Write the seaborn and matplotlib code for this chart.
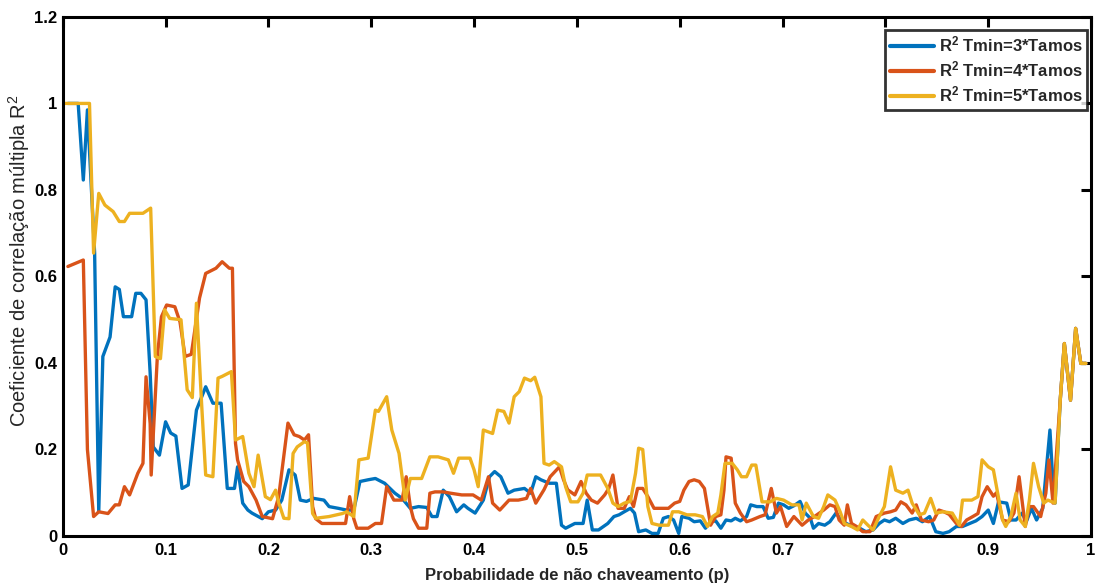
import matplotlib
matplotlib.use("Agg")
import matplotlib.pyplot as plt
import seaborn as sns

# ---------------- data ----------------
x_t3 = [0.005, 0.015, 0.02, 0.024, 0.031, 0.035, 0.039, 0.046, 0.051, 0.055, 0.059, 0.067, 0.071, 0.076,
        0.081, 0.085, 0.088, 0.094, 0.1, 0.105, 0.110, 0.116, 0.122, 0.13, 0.139, 0.146, 0.154, 0.16,
        0.167, 0.17, 0.175, 0.18, 0.184, 0.194, 0.2, 0.207, 0.213, 0.22, 0.226, 0.231, 0.237, 0.244,
        0.254, 0.259, 0.268, 0.276, 0.283, 0.289, 0.297, 0.304, 0.313, 0.323, 0.33, 0.338, 0.346,
        0.354, 0.359, 0.364, 0.37, 0.376, 0.383, 0.39, 0.394, 0.401, 0.409, 0.415, 0.42, 0.426, 0.433,
        0.439, 0.449, 0.455, 0.46, 0.465, 0.473, 0.48, 0.485, 0.489, 0.498, 0.506, 0.51, 0.515, 0.521,
        0.53, 0.536, 0.541, 0.546, 0.552, 0.556, 0.56, 0.567, 0.573, 0.579, 0.584, 0.589, 0.594, 0.599,
        0.602, 0.609, 0.614, 0.62, 0.625, 0.63, 0.635, 0.64, 0.645, 0.65, 0.654, 0.659, 0.665, 0.669,
        0.675, 0.681, 0.686, 0.691, 0.696, 0.701, 0.706, 0.711, 0.717, 0.722, 0.727, 0.73, 0.735, 0.741,
        0.746, 0.752, 0.757, 0.762, 0.768, 0.775, 0.781, 0.788, 0.794, 0.799, 0.804, 0.81, 0.817, 0.823,
        0.83, 0.836, 0.843, 0.849, 0.856, 0.862, 0.869, 0.875, 0.882, 0.888, 0.894, 0.9, 0.905, 0.91,
        0.918, 0.922, 0.927, 0.933, 0.937, 0.942, 0.947, 0.953, 0.96, 0.962, 0.965, 0.97, 0.974, 0.98,
        0.985, 0.99, 0.995]
r2_t3 = [1.0, 1.0, 0.823, 0.985, 0.654, 0.056, 0.415, 0.46, 0.576, 0.57, 0.507, 0.507, 0.561, 0.561,
         0.546, 0.377, 0.206, 0.187, 0.264, 0.238, 0.231, 0.11, 0.118, 0.291, 0.345, 0.307, 0.307, 0.11,
         0.11, 0.16, 0.076, 0.06, 0.053, 0.04, 0.056, 0.06, 0.083, 0.153, 0.141, 0.083, 0.08, 0.087,
         0.083, 0.068, 0.064, 0.06, 0.06, 0.126, 0.13, 0.133, 0.122, 0.099, 0.087, 0.064, 0.068,
         0.066, 0.045, 0.045, 0.106, 0.091, 0.056, 0.072, 0.064, 0.053, 0.083, 0.137, 0.149, 0.137, 0.099,
         0.106, 0.11, 0.099, 0.137, 0.13, 0.122, 0.122, 0.025, 0.018, 0.029, 0.029, 0.083, 0.014, 0.014,
         0.029, 0.045, 0.049, 0.056, 0.064, 0.053, 0.01, 0.014, 0.006, 0.006, 0.041, 0.045, 0.037, 0.006,
         0.045, 0.041, 0.033, 0.035, 0.018, 0.033, 0.035, 0.018, 0.037, 0.035, 0.041, 0.035, 0.045, 0.072,
         0.068, 0.068, 0.041, 0.043, 0.076, 0.072, 0.064, 0.07, 0.08, 0.053, 0.041, 0.018, 0.029, 0.025,
         0.033, 0.053, 0.037, 0.029, 0.022, 0.018, 0.01, 0.014, 0.029, 0.037, 0.033, 0.041, 0.029, 0.037,
         0.041, 0.033, 0.045, 0.01, 0.006, 0.01, 0.022, 0.022, 0.029, 0.035, 0.045, 0.06, 0.029, 0.079,
         0.076, 0.037, 0.037, 0.053, 0.033, 0.064, 0.037, 0.064, 0.245, 0.16, 0.076, 0.314, 0.445, 0.314,
         0.48, 0.399, 0.399]

x_t4 = [0.005, 0.02, 0.024, 0.03, 0.035, 0.044, 0.051, 0.055, 0.06, 0.065, 0.073, 0.078, 0.081, 0.085,
        0.086, 0.092, 0.096, 0.101, 0.109, 0.114, 0.119, 0.125, 0.133, 0.139, 0.149, 0.155, 0.162, 0.165,
        0.168, 0.17, 0.176, 0.181, 0.188, 0.194, 0.204, 0.21, 0.219, 0.225, 0.23, 0.235, 0.239, 0.243,
        0.246, 0.252, 0.275, 0.279, 0.283, 0.286, 0.297, 0.304, 0.31, 0.315, 0.322, 0.33, 0.334, 0.338,
        0.341, 0.346, 0.354, 0.357, 0.362, 0.37, 0.377, 0.388, 0.399, 0.407, 0.414, 0.418, 0.425, 0.434,
        0.443, 0.451, 0.455, 0.46, 0.468, 0.474, 0.483, 0.487, 0.491, 0.498, 0.504, 0.509, 0.514, 0.52,
        0.527, 0.531, 0.535, 0.54, 0.546, 0.551, 0.555, 0.559, 0.564, 0.569, 0.575, 0.589, 0.595, 0.6,
        0.604, 0.609, 0.614, 0.619, 0.624, 0.627, 0.63, 0.635, 0.64, 0.643, 0.645, 0.65, 0.654, 0.659,
        0.665, 0.67, 0.678, 0.683, 0.689, 0.694, 0.698, 0.704, 0.711, 0.719, 0.725, 0.731, 0.74, 0.746,
        0.751, 0.755, 0.76, 0.763, 0.767, 0.772, 0.778, 0.785, 0.791, 0.799, 0.805, 0.81, 0.815, 0.82,
        0.826, 0.83, 0.835, 0.842, 0.847, 0.852, 0.857, 0.862, 0.869, 0.874, 0.879, 0.885, 0.89, 0.894,
        0.899, 0.905, 0.908, 0.914, 0.92, 0.925, 0.93, 0.936, 0.94, 0.944, 0.951, 0.956, 0.959, 0.963,
        0.97, 0.974, 0.98, 0.985, 0.99, 0.995]
r2_t4 = [0.623, 0.638, 0.2, 0.045, 0.056, 0.052, 0.072, 0.072, 0.114, 0.095, 0.145, 0.168, 0.368, 0.26,
         0.141, 0.415, 0.507, 0.534, 0.53, 0.495, 0.415, 0.42, 0.55, 0.607, 0.619, 0.634, 0.619, 0.619,
         0.214, 0.176, 0.126, 0.114, 0.083, 0.045, 0.04, 0.091, 0.261, 0.234, 0.23, 0.222, 0.234, 0.068,
         0.04, 0.029, 0.029, 0.091, 0.04, 0.018, 0.018, 0.029, 0.029, 0.114, 0.083, 0.083, 0.137, 0.068,
         0.04, 0.018, 0.018, 0.099, 0.102, 0.102, 0.099, 0.095, 0.095, 0.083, 0.137, 0.076, 0.06, 0.083,
         0.083, 0.087, 0.11, 0.076, 0.107, 0.137, 0.16, 0.13, 0.107, 0.095, 0.126, 0.099, 0.083, 0.076,
         0.095, 0.11, 0.141, 0.064, 0.064, 0.091, 0.068, 0.11, 0.11, 0.091, 0.064, 0.064, 0.076, 0.08,
         0.106, 0.126, 0.13, 0.126, 0.11, 0.068, 0.025, 0.045, 0.049, 0.106, 0.183, 0.18, 0.076, 0.053,
         0.033, 0.037, 0.045, 0.049, 0.11, 0.053, 0.068, 0.022, 0.045, 0.025, 0.037, 0.045, 0.06, 0.072,
         0.068, 0.037, 0.025, 0.072, 0.029, 0.022, 0.01, 0.01, 0.045, 0.053, 0.056, 0.06, 0.079, 0.072,
         0.053, 0.072, 0.037, 0.033, 0.037, 0.06, 0.056, 0.05, 0.029, 0.022, 0.037, 0.045, 0.052, 0.091,
         0.114, 0.092, 0.1, 0.037, 0.033, 0.053, 0.137, 0.022, 0.068, 0.068, 0.045, 0.099, 0.176, 0.076,
         0.314, 0.445, 0.314, 0.48, 0.399, 0.399]

x_t5 = [0.0, 0.026, 0.03, 0.035, 0.041, 0.049, 0.055, 0.06, 0.065, 0.078, 0.0855, 0.09, 0.095, 0.099,
        0.104, 0.115, 0.121, 0.126, 0.13, 0.135, 0.139, 0.146, 0.151, 0.155, 0.164, 0.168, 0.175, 0.181,
        0.186, 0.19, 0.197, 0.202, 0.207, 0.21, 0.215, 0.22, 0.224, 0.228, 0.235, 0.238, 0.243, 0.246,
        0.259, 0.272, 0.276, 0.283, 0.288, 0.297, 0.304, 0.307, 0.315, 0.32, 0.327, 0.333, 0.338, 0.349,
        0.357, 0.365, 0.375, 0.38, 0.385, 0.396, 0.4, 0.404, 0.409, 0.418, 0.423, 0.429, 0.434, 0.439,
        0.444, 0.449, 0.455, 0.459, 0.465, 0.468, 0.473, 0.478, 0.485, 0.489, 0.494, 0.501, 0.506, 0.51,
        0.523, 0.53, 0.535, 0.54, 0.546, 0.552, 0.557, 0.56, 0.564, 0.569, 0.573, 0.58, 0.589, 0.593,
        0.599, 0.607, 0.615, 0.622, 0.627, 0.632, 0.637, 0.64, 0.644, 0.651, 0.656, 0.66, 0.665, 0.67,
        0.674, 0.68, 0.688, 0.694, 0.701, 0.709, 0.716, 0.719, 0.723, 0.73, 0.735, 0.74, 0.744, 0.751,
        0.756, 0.76, 0.767, 0.773, 0.778, 0.783, 0.788, 0.794, 0.799, 0.805, 0.81, 0.817, 0.822, 0.826,
        0.833, 0.838, 0.844, 0.849, 0.856, 0.865, 0.872, 0.875, 0.884, 0.89, 0.894, 0.9, 0.905, 0.908,
        0.914, 0.917, 0.922, 0.927, 0.931, 0.936, 0.94, 0.944, 0.949, 0.954, 0.958, 0.965, 0.97, 0.974,
        0.98, 0.985, 0.99, 0.995]
r2_t5 = [1.0, 1.0, 0.654, 0.792, 0.765, 0.75, 0.727, 0.727, 0.746, 0.746, 0.758, 0.415, 0.41, 0.523,
         0.503, 0.5, 0.338, 0.32, 0.538, 0.307, 0.141, 0.137, 0.365, 0.369, 0.38, 0.222, 0.23, 0.145,
         0.114, 0.187, 0.091, 0.084, 0.106, 0.077, 0.041, 0.04, 0.191, 0.206, 0.218, 0.215, 0.052, 0.041,
         0.045, 0.052, 0.056, 0.045, 0.176, 0.18, 0.291, 0.288, 0.322, 0.245, 0.191, 0.083, 0.133, 0.133,
         0.183, 0.183, 0.176, 0.145, 0.18, 0.18, 0.153, 0.114, 0.245, 0.237, 0.291, 0.288, 0.261, 0.322,
         0.334, 0.365, 0.359, 0.367, 0.322, 0.168, 0.164, 0.172, 0.16, 0.114, 0.079, 0.079, 0.099, 0.141,
         0.141, 0.11, 0.076, 0.068, 0.076, 0.08, 0.145, 0.203, 0.2, 0.068, 0.029, 0.025, 0.025, 0.056,
         0.056, 0.049, 0.049, 0.045, 0.022, 0.045, 0.053, 0.095, 0.168, 0.168, 0.153, 0.137, 0.137, 0.164,
         0.164, 0.079, 0.079, 0.087, 0.083, 0.072, 0.072, 0.037, 0.076, 0.045, 0.041, 0.068, 0.095, 0.083,
         0.056, 0.029, 0.022, 0.014, 0.037, 0.025, 0.014, 0.045, 0.068, 0.16, 0.106, 0.099, 0.106, 0.076,
         0.049, 0.053, 0.087, 0.053, 0.056, 0.053, 0.025, 0.083, 0.083, 0.091, 0.176, 0.16, 0.153, 0.114,
         0.037, 0.022, 0.045, 0.099, 0.037, 0.022, 0.083, 0.168, 0.114, 0.076, 0.083, 0.076, 0.314, 0.445,
         0.314, 0.48, 0.399, 0.399]

series_labels = [r"$\mathbf{R^2}$ Tmin=3*Tamos",
                 r"$\mathbf{R^2}$ Tmin=4*Tamos",
                 r"$\mathbf{R^2}$ Tmin=5*Tamos"]
x_ticks = [0, 0.1, 0.2, 0.3, 0.4, 0.5, 0.6, 0.7, 0.8, 0.9, 1]
x_tick_labels = ["0", "0.1", "0.2", "0.3", "0.4", "0.5", "0.6", "0.7", "0.8", "0.9", "1"]
y_ticks = [0, 0.2, 0.4, 0.6, 0.8, 1.0, 1.2]
y_tick_labels = ["0", "0.2", "0.4", "0.6", "0.8", "1", "1.2"]
x_title = "Probabilidade de não chaveamento (p)"
y_title = r"Coeficiente de correlação múltipla R$^2$"

# ---------------- style ----------------
sns.set_theme(style="white")
plt.rcParams["font.family"] = ["Liberation Sans", "DejaVu Sans"]
plt.rcParams["mathtext.fontset"] = "custom"
plt.rcParams["mathtext.rm"] = "Liberation Sans"
plt.rcParams["mathtext.it"] = "Liberation Sans:italic"
plt.rcParams["mathtext.bf"] = "Liberation Sans:bold"

colors = ["#0072BD", "#D95319", "#EDB120"]

fig = plt.figure(figsize=(10.97, 5.83), dpi=100)
ax = fig.add_axes([0.0572, 0.0806, 0.9374, 0.8904])

for xs, ys, lab, col in zip([x_t3, x_t4, x_t5], [r2_t3, r2_t4, r2_t5], series_labels, colors):
    sns.lineplot(x=xs, y=ys, ax=ax, color=col, label=lab, linewidth=2.4,
                 estimator=None, sort=False)

ax.set_xlim(0, 1)
ax.set_ylim(0, 1.2)
ax.set_xticks(x_ticks)
ax.set_xticklabels(x_tick_labels, fontsize=12, fontweight="bold")
ax.set_yticks(y_ticks)
ax.set_yticklabels(y_tick_labels, fontsize=12, fontweight="bold")
ax.tick_params(axis="both", direction="in", length=7, width=2.2, colors="black",
               top=True, right=True, pad=4)
ax.tick_params(axis="x", pad=5)
for sp in ax.spines.values():
    sp.set_visible(True)
    sp.set_color("black")
    sp.set_linewidth(2.2)
ax.grid(False)

ax.set_xlabel(x_title, fontsize=12, fontweight="bold", labelpad=7)
ax.set_ylabel(y_title, fontsize=14.5)
ax.yaxis.set_label_coords(-0.030, 0.53)

leg = ax.legend(loc="upper right", bbox_to_anchor=(0.9965, 0.975),
                prop={"weight": "bold", "size": 12}, frameon=True, fancybox=False,
                handlelength=2.6, handletextpad=0.3, borderpad=0.3, labelspacing=0.3,
                borderaxespad=0.0)
leg.get_frame().set_edgecolor("black")
leg.get_frame().set_linewidth(2.0)
for line in leg.get_lines():
    line.set_linewidth(3.0)

fig.savefig("out.png", dpi=100)
